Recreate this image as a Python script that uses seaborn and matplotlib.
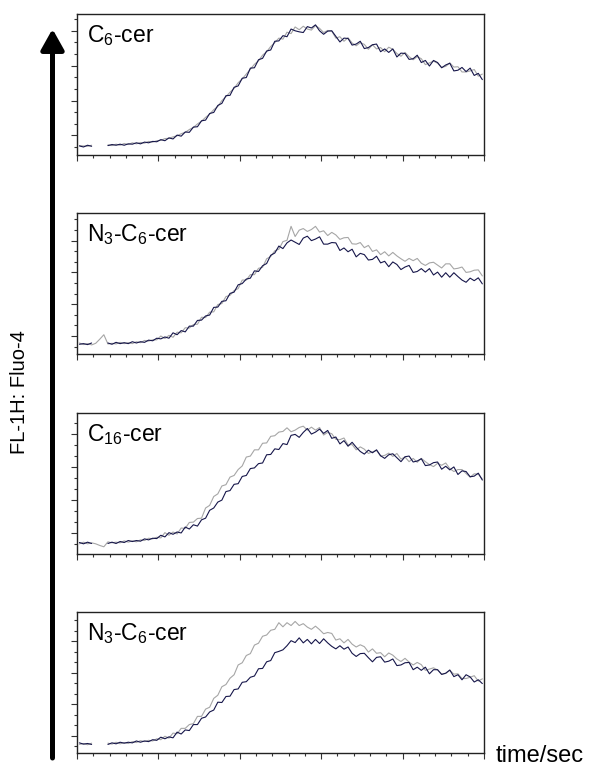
import numpy as np
import pandas as pd
import matplotlib.pyplot as plt
import seaborn as sns
from matplotlib.patches import FancyArrowPatch
from matplotlib.ticker import MultipleLocator

nan = np.nan

# sample times (s), one reading every 5 s
time_sec = np.arange(3, 500, 5)

panel_labels = [r'C$_6$-cer', r'N$_3$-C$_6$-cer', r'C$_{16}$-cer', r'N$_3$-C$_6$-cer']

# Fluo-4 signal (arbitrary units, 1 unit = one major y tick)
c6_navy = [
    0.70, 0.67, 0.72, 0.69, nan, nan, nan, 0.71, 0.74, 0.72,
    0.75, 0.72, 0.76, 0.75, 0.79, 0.76, 0.81, 0.79, 0.83, 0.82,
    0.88, 0.85, 0.93, 0.90, 1.01, 0.98, 1.10, 1.09, 1.24, 1.25,
    1.42, 1.44, 1.63, 1.66, 1.86, 1.92, 2.14, 2.15, 2.38, 2.42,
    2.64, 2.66, 2.93, 2.94, 3.17, 3.21, 3.42, 3.45, 3.70, 3.71,
    3.86, 3.83, 4.05, 4.00, 3.97, 3.95, 4.12, 4.08, 4.17, 4.00,
    3.90, 3.99, 4.00, 3.84, 3.68, 3.79, 3.78, 3.59, 3.62, 3.70,
    3.49, 3.52, 3.60, 3.62, 3.40, 3.48, 3.38, 3.48, 3.25, 3.36,
    3.35, 3.18, 3.20, 3.30, 3.09, 3.15, 2.99, 3.15, 3.09, 2.94,
    3.02, 3.07, 2.85, 2.87, 2.95, 2.83, 2.93, 2.72, 2.78, 2.60,
]
c6_gray = [
    0.71, 0.70, 0.69, 0.72, nan, nan, nan, 0.73, 0.71, 0.75,
    0.72, 0.77, 0.74, 0.79, 0.76, 0.80, 0.78, 0.83, 0.81, 0.85,
    0.86, 0.91, 0.92, 0.96, 0.99, 1.05, 1.09, 1.17, 1.23, 1.33,
    1.41, 1.52, 1.61, 1.74, 1.83, 2.00, 2.11, 2.24, 2.35, 2.51,
    2.62, 2.76, 2.90, 3.04, 3.14, 3.30, 3.40, 3.55, 3.66, 3.79,
    3.76, 3.96, 3.92, 4.11, 4.03, 4.13, 4.05, 4.02, 4.15, 4.07,
    3.95, 4.01, 3.99, 3.79, 3.83, 3.70, 3.80, 3.65, 3.57, 3.66,
    3.61, 3.47, 3.60, 3.48, 3.52, 3.40, 3.53, 3.47, 3.35, 3.27,
    3.38, 3.26, 3.17, 3.26, 3.20, 3.03, 3.08, 3.13, 3.07, 2.95,
    2.98, 3.08, 2.96, 2.97, 2.82, 2.82, 2.85, 2.89, 2.70, 2.76,
]
n3c6_navy = [
    0.74, 0.76, 0.73, 0.78, nan, nan, nan, 0.78, 0.74, 0.80,
    0.76, 0.79, 0.76, 0.82, 0.78, 0.82, 0.80, 0.87, 0.85, 0.93,
    0.91, 0.97, 0.93, 1.10, 1.04, 1.17, 1.13, 1.31, 1.31, 1.49,
    1.50, 1.63, 1.66, 1.90, 1.91, 2.09, 2.11, 2.34, 2.38, 2.61,
    2.65, 2.79, 2.82, 3.05, 3.03, 3.21, 3.28, 3.54, 3.61, 3.83,
    3.75, 3.93, 4.02, 3.95, 3.88, 4.08, 4.14, 4.00, 4.05, 4.12,
    3.89, 3.89, 3.94, 3.93, 3.69, 3.77, 3.65, 3.73, 3.49, 3.60,
    3.56, 3.39, 3.41, 3.51, 3.30, 3.35, 3.18, 3.33, 3.25, 3.09,
    3.17, 3.22, 3.00, 3.03, 3.12, 3.01, 3.12, 2.92, 3.01, 2.85,
    2.99, 2.85, 2.99, 2.87, 2.76, 2.69, 2.82, 2.74, 2.83, 2.64,
]
n3c6_gray = [
    0.78, 0.73, 0.76, 0.72, 0.77, 0.90, 1.04, 0.75, 0.77, 0.75,
    0.80, 0.76, 0.79, 0.76, 0.82, 0.79, 0.86, 0.84, 0.88, 0.88,
    1.00, 0.92, 1.02, 0.96, 1.12, 1.10, 1.26, 1.25, 1.36, 1.37,
    1.59, 1.58, 1.75, 1.76, 1.99, 2.02, 2.24, 2.28, 2.43, 2.49,
    2.76, 2.76, 2.93, 2.93, 3.13, 3.16, 3.43, 3.50, 3.68, 3.73,
    3.97, 4.01, 4.45, 4.13, 4.33, 4.38, 4.29, 4.35, 4.45, 4.27,
    4.31, 4.16, 4.26, 4.18, 4.04, 4.09, 4.10, 3.90, 3.89, 3.94,
    3.78, 3.85, 3.66, 3.71, 3.56, 3.65, 3.52, 3.63, 3.52, 3.43,
    3.35, 3.44, 3.37, 3.44, 3.29, 3.22, 3.30, 3.32, 3.23, 3.14,
    3.27, 3.27, 3.11, 3.13, 3.17, 3.00, 3.02, 3.07, 3.08, 2.89,
]
c16_navy = [
    0.70, 0.66, 0.71, 0.67, nan, nan, nan, 0.67, 0.71, 0.67,
    0.73, 0.70, 0.76, 0.73, 0.76, 0.74, 0.81, 0.78, 0.83, 0.82,
    0.92, 0.87, 1.00, 0.95, 1.02, 0.99, 1.17, 1.11, 1.24, 1.20,
    1.39, 1.44, 1.68, 1.75, 1.93, 1.99, 2.25, 2.28, 2.47, 2.49,
    2.71, 2.74, 2.95, 2.97, 3.10, 3.12, 3.37, 3.38, 3.55, 3.53,
    3.71, 3.68, 3.96, 3.99, 3.90, 4.05, 4.17, 4.00, 4.06, 4.15,
    4.02, 4.11, 3.87, 3.91, 3.70, 3.80, 3.63, 3.75, 3.60, 3.47,
    3.39, 3.51, 3.43, 3.52, 3.34, 3.26, 3.37, 3.40, 3.28, 3.16,
    3.31, 3.33, 3.15, 3.18, 3.25, 3.04, 3.06, 3.13, 3.15, 2.93,
    3.02, 2.91, 3.00, 2.77, 2.88, 2.86, 2.70, 2.72, 2.81, 2.60,
]
c16_gray = [
    0.66, 0.71, 0.66, 0.69, 0.66, 0.61, 0.57, 0.72, 0.69, 0.71,
    0.69, 0.75, 0.71, 0.75, 0.72, 0.78, 0.76, 0.83, 0.81, 0.86,
    0.84, 1.00, 0.92, 1.02, 0.96, 1.14, 1.13, 1.31, 1.32, 1.43,
    1.44, 1.75, 1.83, 2.10, 2.18, 2.42, 2.46, 2.69, 2.74, 2.92,
    3.03, 3.30, 3.33, 3.52, 3.52, 3.72, 3.73, 3.93, 3.95, 4.06,
    4.08, 4.19, 4.07, 4.12, 4.20, 4.24, 4.12, 4.21, 4.12, 4.20,
    3.97, 4.05, 4.01, 3.84, 3.83, 3.88, 3.67, 3.68, 3.52, 3.61,
    3.54, 3.41, 3.46, 3.50, 3.33, 3.35, 3.42, 3.32, 3.41, 3.24,
    3.30, 3.16, 3.26, 3.14, 3.26, 3.16, 3.07, 3.01, 3.11, 3.05,
    3.12, 2.95, 2.86, 2.92, 2.92, 2.80, 2.69, 2.79, 2.78, 2.63,
]
n3c6b_navy = [
    0.78, 0.74, 0.76, 0.73, nan, nan, nan, 0.73, 0.78, 0.75,
    0.80, 0.77, 0.80, 0.78, 0.84, 0.80, 0.84, 0.82, 0.88, 0.86,
    0.96, 0.91, 0.97, 0.94, 1.12, 1.06, 1.19, 1.17, 1.36, 1.36,
    1.56, 1.60, 1.76, 1.82, 2.07, 2.06, 2.25, 2.26, 2.47, 2.49,
    2.70, 2.72, 2.86, 2.90, 3.13, 3.14, 3.35, 3.39, 3.64, 3.68,
    3.73, 3.86, 4.02, 3.96, 4.11, 3.95, 4.06, 3.92, 4.06, 3.93,
    4.08, 3.95, 3.84, 3.76, 3.86, 3.75, 3.82, 3.62, 3.52, 3.61,
    3.62, 3.48, 3.35, 3.49, 3.51, 3.34, 3.37, 3.44, 3.23, 3.25,
    3.32, 3.33, 3.10, 3.18, 3.08, 3.18, 2.97, 3.10, 3.10, 2.95,
    2.99, 3.09, 2.88, 2.94, 2.78, 2.94, 2.87, 2.71, 2.78, 2.66,
]
n3c6b_gray = [
    0.73, 0.76, 0.72, 0.77, nan, nan, nan, 0.77, 0.74, 0.80,
    0.75, 0.79, 0.76, 0.82, 0.79, 0.85, 0.82, 0.86, 0.84, 0.91,
    0.88, 0.99, 0.93, 1.09, 1.07, 1.24, 1.24, 1.36, 1.39, 1.62,
    1.62, 1.85, 1.91, 2.19, 2.29, 2.56, 2.63, 2.83, 2.94, 3.25,
    3.32, 3.55, 3.61, 3.88, 3.94, 4.16, 4.20, 4.35, 4.38, 4.59,
    4.46, 4.59, 4.50, 4.63, 4.50, 4.56, 4.45, 4.38, 4.48, 4.37,
    4.24, 4.28, 4.25, 4.04, 4.08, 3.95, 4.06, 3.91, 3.82, 3.89,
    3.83, 3.66, 3.76, 3.62, 3.64, 3.51, 3.63, 3.56, 3.44, 3.36,
    3.46, 3.34, 3.25, 3.33, 3.26, 3.08, 3.12, 3.16, 3.09, 2.96,
    2.98, 3.08, 2.96, 2.97, 2.82, 2.82, 2.86, 2.91, 2.74, 2.81,
]

navy_traces = [c6_navy, n3c6_navy, c16_navy, n3c6b_navy]
gray_traces = [c6_gray, n3c6_gray, c16_gray, n3c6b_gray]
y_limits = [(0.44, 4.48), (0.425, 4.86), (0.35, 4.64), (0.45, 4.92)]

sns.set_theme(style="white")
plt.rcParams['font.family'] = ['Liberation Sans', 'DejaVu Sans']
plt.rcParams['mathtext.fontset'] = 'custom'
plt.rcParams['mathtext.rm'] = 'Liberation Sans'
plt.rcParams['mathtext.default'] = 'regular'
plt.rcParams['text.color'] = 'black'

fig = plt.figure(figsize=(5.89, 7.67), dpi=100)
panel_bottoms = [0.7979, 0.5381, 0.2777, 0.0179]

for k in range(4):
    ax = fig.add_axes([0.1307, panel_bottoms[k], 0.691, 0.1838])
    for vals, color in ((gray_traces[k], '#a6a6a6'), (navy_traces[k], '#16164a')):
        df = pd.DataFrame({'t': time_sec, 'v': vals})
        df['seg'] = df['v'].isna().cumsum()
        df = df.dropna()
        sns.lineplot(data=df, x='t', y='v', units='seg', estimator=None,
                     color=color, linewidth=0.8, ax=ax)
    ax.set_xlim(0, 500)
    ax.set_ylim(*y_limits[k])
    ax.xaxis.set_major_locator(MultipleLocator(100))
    ax.xaxis.set_minor_locator(MultipleLocator(20))
    ax.yaxis.set_major_locator(MultipleLocator(1))
    ax.yaxis.set_minor_locator(MultipleLocator(1 / 3))
    ax.tick_params(which='both', direction='out', bottom=True, left=True,
                   labelbottom=False, labelleft=False, color='#333333', width=0.8)
    ax.tick_params(which='major', length=4.5)
    ax.tick_params(which='minor', length=2.2)
    ax.set_xlabel('')
    ax.set_ylabel('')
    for sp in ax.spines.values():
        sp.set_color('#222222')
        sp.set_linewidth(1.0)
    ax.text(0.024, 0.80, panel_labels[k], transform=ax.transAxes,
            fontsize=16.5, va='baseline', ha='left', color='black')

# big arrow on the left and axis captions
fig.add_artist(FancyArrowPatch((52.5 / 589, 9 / 767), (52.5 / 589, 738 / 767),
                               transform=fig.transFigure,
                               arrowstyle='-|>,head_length=0.5,head_width=0.28',
                               mutation_scale=25, lw=3.6, color='black',
                               shrinkA=0, shrinkB=0))
fig.text(20 / 589, 1 - 392 / 767, 'FL-1H: Fluo-4', rotation=90,
         ha='center', va='center', fontsize=14.5)
fig.text(496 / 589, 5 / 767, 'time/sec', ha='left', va='baseline', fontsize=17)

fig.savefig('out.png', dpi=100)
